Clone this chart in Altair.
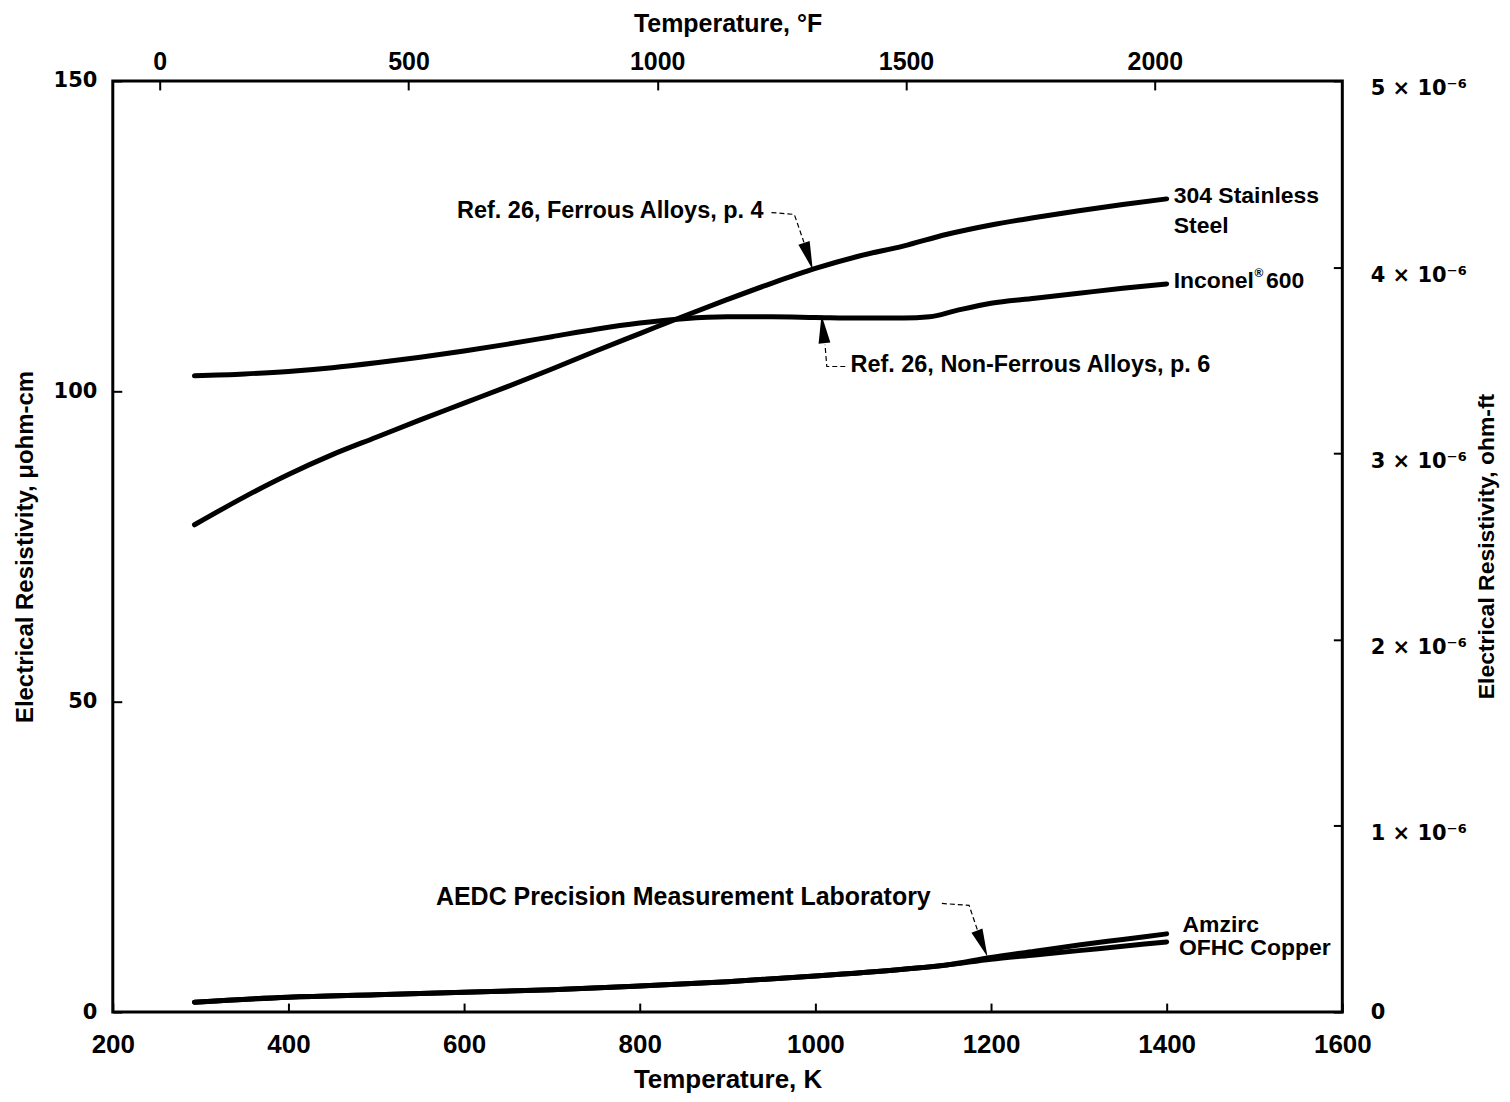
import altair as alt
import pandas as pd

# ---- data (temperature in K, resistivity in µohm-cm) ----
steel_K = [293, 350, 400, 450, 500, 550, 600, 650, 700, 750, 800, 850, 900, 950, 1000, 1050, 1100, 1150, 1200, 1250, 1300, 1350, 1400]
steel_v = [78.5, 83.0, 86.6, 89.8, 92.6, 95.4, 98.1, 100.8, 103.6, 106.5, 109.3, 112.1, 114.8, 117.4, 119.8, 121.8, 123.4, 125.3, 126.8, 128.0, 129.1, 130.1, 131.0]

inconel_K = [293, 350, 400, 450, 500, 550, 600, 650, 700, 750, 800, 850, 900, 950, 1000, 1050, 1100, 1130, 1160, 1200, 1250, 1300, 1350, 1400]
inconel_v = [102.5, 102.8, 103.2, 103.8, 104.6, 105.5, 106.5, 107.6, 108.8, 110.0, 111.0, 111.7, 112.0, 112.0, 111.9, 111.8, 111.8, 112.0, 113.0, 114.2, 115.0, 115.8, 116.6, 117.3]

copper_K = [293, 400, 500, 600, 700, 800, 900, 1000, 1100, 1150, 1200, 1250, 1300, 1350, 1400]
copper_v = [1.6, 2.4, 2.8, 3.2, 3.6, 4.2, 4.9, 5.8, 6.9, 7.6, 8.5, 9.2, 9.9, 10.6, 11.3]

amzirc_K = [293, 400, 500, 600, 700, 800, 900, 1000, 1100, 1150, 1200, 1250, 1300, 1350, 1400]
amzirc_v = [1.6, 2.4, 2.8, 3.2, 3.6, 4.2, 4.9, 5.8, 6.9, 7.6, 8.8, 9.8, 10.8, 11.7, 12.6]

# annotation labels
ann_text = ["Ref. 26, Ferrous Alloys, p. 4", "Ref. 26, Non-Ferrous Alloys, p. 6",
            "AEDC Precision Measurement Laboratory", "304 Stainless", "Steel",
            "Inconel", "®", "600", "Amzirc", "OFHC Copper"]
ann_K = [592, 1040, 568, 1408, 1408, 1408, 1500, 1513, 1418, 1414]
ann_v = [129.1, 104.3, 18.5, 131.4, 126.6, 117.7, 119.0, 117.7, 14.1, 10.3]
ann_size = [23.5, 23.5, 25, 23, 23, 23, 12, 23, 23, 23]

# dashed leader lines
lead_group = ["fe", "fe", "fe", "nf", "nf", "nf", "ae", "ae", "ae"]
lead_K = [950, 976, 987, 1034, 1013, 1011, 1144, 1175, 1186]
lead_v = [128.8, 128.5, 124.0, 104.0, 104.0, 107.5, 17.5, 17.2, 12.6]

# arrow heads (tip positions and direction)
arrow_K = [997, 1007, 1196]
arrow_v = [119.6, 112.3, 8.9]
arrow_angle = [342, 174, 338]

# axis ticks
k_ticks = [200, 400, 600, 800, 1000, 1200, 1400, 1600]
f_ticks = [0, 500, 1000, 1500, 2000]
uohm_ticks = [0, 50, 100, 150]
ohmft_ticks = [0, 1e-6, 2e-6, 3e-6, 4e-6, 5e-6]

# ---- frames ----
lines_df = pd.concat([
    pd.DataFrame({"K": steel_K, "v": steel_v, "s": "steel"}),
    pd.DataFrame({"K": inconel_K, "v": inconel_v, "s": "inconel"}),
    pd.DataFrame({"K": copper_K, "v": copper_v, "s": "copper"}),
    pd.DataFrame({"K": amzirc_K, "v": amzirc_v, "s": "amzirc"}),
])
ann_df = pd.DataFrame({"K": ann_K, "v": ann_v, "t": ann_text, "fs": ann_size})
lead_df = pd.DataFrame({"K": lead_K, "v": lead_v, "g": lead_group, "i": list(range(len(lead_K)))})
arrow_df = pd.DataFrame({"K": arrow_K, "v": arrow_v, "a": arrow_angle})
f_df = pd.DataFrame({"F": f_ticks})
r_df = pd.DataFrame({"R": ohmft_ticks})

FONT = "Liberation Sans"
WIDE = "DejaVu Sans"

x_enc = alt.X("K:Q", scale=alt.Scale(domain=[200, 1600], nice=False, zero=False),
              axis=alt.Axis(orient="bottom", values=k_ticks, format="d", grid=False, domain=False,
                            offset=-9, tickSize=9, tickWidth=2, tickColor="black",
                            labelFont=FONT, labelFontWeight="bold", labelFontSize=26, labelColor="black",
                            labelPadding=20, labelFlush=False, labelOverlap=False,
                            title="Temperature, K", titleFont=FONT, titleFontSize=26,
                            titleFontWeight="bold", titleColor="black", titlePadding=9))
y_enc = alt.Y("v:Q", scale=alt.Scale(domain=[0, 150], nice=False),
              axis=alt.Axis(orient="left", values=uohm_ticks, grid=False, domain=False,
                            offset=-9, tickSize=9, tickWidth=2, tickColor="black",
                            labelFont=WIDE, labelFontWeight="bold", labelFontSize=21, labelColor="black",
                            labelPadding=16, labelOverlap=False,
                            title="Electrical Resistivity, μohm-cm", titleFont=FONT, titleFontSize=24,
                            titleFontWeight="bold", titleColor="black", titlePadding=16))

lines = alt.Chart(lines_df).mark_line(color="black", strokeWidth=5, interpolate="monotone",
                                      strokeCap="round").encode(x=x_enc, y=y_enc, detail="s:N")
leaders = alt.Chart(lead_df).mark_line(color="black", strokeWidth=1.2, strokeDash=[5, 3]).encode(
    x=x_enc, y=y_enc, detail="g:N", order="i:Q")
arrows = alt.Chart(arrow_df).mark_point(shape="M-0.42,-2L0.42,-2L0,0Z", filled=True, color="black",
                                        opacity=1, size=800).encode(
    x=x_enc, y=y_enc, angle=alt.Angle("a:Q", scale=None))
texts = alt.Chart(ann_df).mark_text(align="left", baseline="middle", font=FONT, fontWeight="bold",
                                    color="black").encode(
    x=x_enc, y=y_enc, text="t:N", size=alt.Size("fs:Q", scale=None))

main = alt.layer(lines, leaders, arrows, texts)

top = alt.Chart(f_df).mark_point(opacity=0, size=1).encode(
    x=alt.X("F:Q", scale=alt.Scale(domain=[-94.3, 2377], nice=False, zero=False),
            axis=alt.Axis(orient="top", values=f_ticks, format="d", grid=False, domain=False,
                          offset=-9, tickSize=9, tickWidth=2, tickColor="black",
                          labelFont=FONT, labelFontWeight="bold", labelFontSize=25, labelColor="black",
                          labelPadding=6, labelOverlap=False, labelFlush=False,
                          title="Temperature, °F", titleFont=FONT, titleFontSize=25,
                          titleFontWeight="bold", titleColor="black", titlePadding=14)))

right = alt.Chart(r_df).mark_point(opacity=0, size=1).encode(
    y=alt.Y("R:Q", scale=alt.Scale(domain=[0, 5e-6], nice=False),
            axis=alt.Axis(orient="right", values=ohmft_ticks, grid=False, domain=False,
                          offset=-9, tickSize=9, tickWidth=2, tickColor="black",
                          labelExpr="datum.value == 0 ? '0' : (format(datum.value * 1e6, '.0f') + ' × 10⁻⁶')",
                          labelFont=WIDE, labelFontWeight="bold", labelFontSize=21, labelColor="black",
                          labelPadding=28, labelOverlap=False, labelFlush=False,
                          labelOffset={"condition": {"test": "datum.value == 0", "value": 0}, "value": 8},
                          title="Electrical Resistivity, ohm-ft", titleFont=FONT, titleFontSize=23,
                          titleFontWeight="bold", titleColor="black", titleAngle=270,
                          titleX=153, titleY=466, titleAlign="center", titleBaseline="middle")))

chart = alt.layer(main, top, right).resolve_scale(x="independent", y="independent").properties(
    width=1232, height=933,
    autosize=alt.AutoSizeParams(type="none"),
    padding={"left": 105, "top": 72, "right": 160, "bottom": 80},
    background="white",
).configure_view(stroke="black", strokeWidth=3)

chart.save("out.html", embed_options={"renderer": "svg", "actions": False})
